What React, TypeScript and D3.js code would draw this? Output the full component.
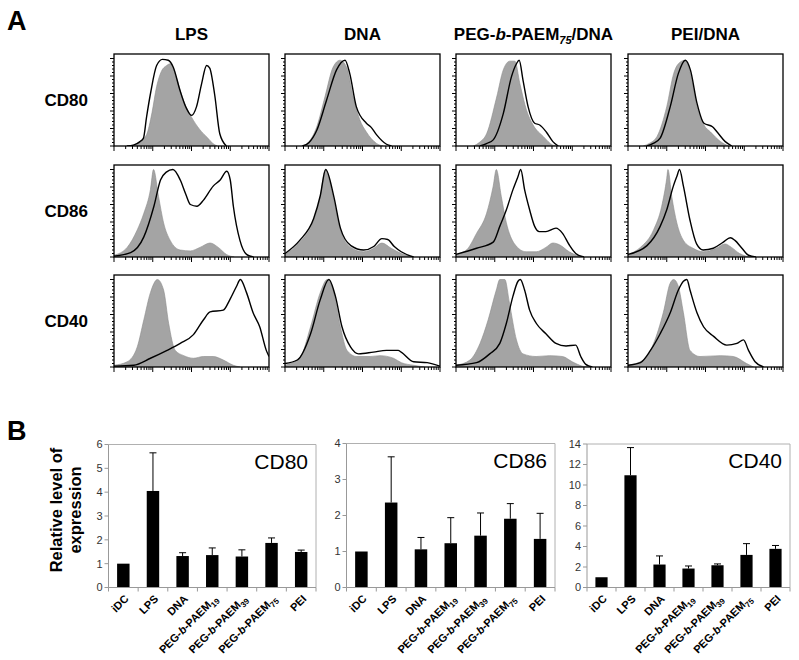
import React from 'react';
import * as d3 from 'd3';

const FONT = "'Liberation Sans', Arial, Helvetica, sans-serif";

// ---------- Panel A: flow cytometry histograms ----------
// points: [log10 fluorescence (decades 0..4), % of max]
const columnTitles = ['LPS', 'DNA', 'PEG-b-PAEM75/DNA', 'PEI/DNA'];
const rowLabels = ['CD80', 'CD86', 'CD40'];

// CD80 row
const cd80LpsCtrl = [[0.41,0],[0.6,3],[0.84,13],[0.98,38],[1.1,68],[1.22,85],[1.36,92],[1.45,94],[1.61,78],[1.79,52],[2.0,33],[2.21,19],[2.4,10],[2.55,3],[2.66,0]];
const cd80Lps = [[0.33,0],[0.5,1],[0.67,5],[0.76,9],[0.84,33],[0.95,62],[1.1,92],[1.25,99],[1.4,98],[1.53,90],[1.7,64],[1.87,43],[2.0,35],[2.13,45],[2.26,71],[2.39,92],[2.47,89],[2.6,58],[2.73,14],[2.9,0]];
const cd80DnaCtrl = [[0.43,0],[0.6,4],[0.82,22],[1.03,56],[1.24,90],[1.42,98],[1.59,90],[1.76,56],[1.93,30],[2.1,16],[2.36,3],[2.53,0]];
const cd80Dna = [[0.45,0],[0.62,4],[0.82,18],[1.07,52],[1.33,87],[1.55,98],[1.67,83],[1.84,45],[2.1,26],[2.23,21],[2.36,13],[2.62,2],[2.75,0]];
const cd80PegCtrl = [[0.45,0],[0.6,4],[0.79,14],[1.05,56],[1.22,87],[1.39,97],[1.52,97],[1.65,71],[1.82,41],[1.99,24],[2.25,11],[2.5,1],[2.6,0]];
const cd80Peg = [[0.62,0],[0.8,3],[0.96,7],[1.22,37],[1.43,79],[1.56,94],[1.63,98],[1.73,75],[1.86,45],[2.03,26],[2.16,24],[2.33,16],[2.5,5],[2.64,0]];
const cd80PeiCtrl = [[0.4,0],[0.55,3],[0.75,11],[1.0,45],[1.18,83],[1.35,96],[1.48,98],[1.61,83],[1.78,45],[1.96,24],[2.13,16],[2.39,5],[2.6,0]];
const cd80Pei = [[0.49,0],[0.65,3],[0.83,9],[1.09,45],[1.3,83],[1.48,98],[1.61,87],[1.78,49],[1.96,26],[2.18,22],[2.3,16],[2.51,5],[2.68,0]];

// CD86 row
const cd86LpsCtrl = [[0,2],[0.34,11],[0.6,31],[0.77,50],[0.94,77],[1.02,100],[1.15,69],[1.28,39],[1.45,19],[1.71,8],[1.97,7],[2.22,11],[2.48,16],[2.69,11],[2.9,3],[3.1,0]];
const cd86Lps = [[0,1],[0.43,5],[0.77,23],[1.03,58],[1.2,88],[1.35,97],[1.52,100],[1.71,88],[1.85,72],[1.97,60],[2.14,58],[2.31,65],[2.56,81],[2.74,88],[2.91,98],[3.0,88],[3.08,58],[3.25,19],[3.42,3],[3.6,0]];
const cd86DnaCtrl = [[0,3],[0.38,17],[0.74,42],[0.91,69],[1.04,100],[1.26,65],[1.43,31],[1.7,11],[2.03,6],[2.29,10],[2.5,16],[2.74,10],[3.0,4],[3.3,0]];
const cd86Dna = [[0,4],[0.38,19],[0.74,44],[0.91,70],[1.05,100],[1.26,69],[1.43,33],[1.7,13],[2.03,8],[2.29,12],[2.5,21],[2.65,20],[2.82,12],[3.0,6],[3.32,0]];
const cd86PegCtrl = [[0,3],[0.27,8],[0.53,27],[0.79,50],[0.96,81],[1.04,100],[1.17,69],[1.3,39],[1.51,15],[1.81,6],[2.07,6],[2.32,11],[2.5,16],[2.67,14],[2.92,6],[3.18,1],[3.3,0]];
const cd86Peg = [[0,3],[0.53,10],[0.96,17],[1.13,35],[1.3,54],[1.47,77],[1.6,92],[1.67,100],[1.77,77],[1.9,54],[2.03,35],[2.15,29],[2.32,29],[2.58,33],[2.75,27],[2.92,14],[3.09,4],[3.3,0]];
const cd86PeiCtrl = [[0,3],[0.32,11],[0.66,31],[0.87,58],[1.0,90],[1.03,100],[1.13,69],[1.26,39],[1.43,19],[1.68,10],[1.94,6],[2.28,10],[2.5,15],[2.67,11],[2.88,4],[3.05,1],[3.2,0]];
const cd86Pei = [[0,3],[0.49,13],[0.83,35],[1.0,54],[1.17,81],[1.26,92],[1.33,100],[1.43,81],[1.6,42],[1.77,15],[1.94,8],[2.2,10],[2.46,17],[2.64,22],[2.76,19],[2.94,10],[3.11,2],[3.3,0]];

// CD40 row
const cd40LpsCtrl = [[0,2],[0.34,6],[0.6,23],[0.77,54],[0.94,85],[1.12,100],[1.28,88],[1.41,50],[1.58,19],[1.8,13],[2.05,10],[2.31,12],[2.56,12],[2.82,8],[3.08,2],[3.25,0]];
const cd40Lps = [[0,1],[0.51,2],[0.94,10],[1.37,19],[1.71,27],[2.05,37],[2.31,54],[2.48,63],[2.82,65],[2.99,77],[3.16,92],[3.26,100],[3.42,85],[3.59,62],[3.76,46],[3.93,19],[4.0,12]];
const cd40DnaCtrl = [[0,2],[0.4,12],[0.66,46],[0.91,85],[1.09,100],[1.26,85],[1.43,46],[1.6,19],[1.85,12],[2.2,12],[2.45,13],[2.8,10],[3.0,5],[3.32,2],[3.6,0]];
const cd40Dna = [[0,4],[0.32,8],[0.66,38],[0.91,77],[1.13,100],[1.3,81],[1.47,46],[1.69,23],[1.9,15],[2.28,17],[2.62,19],[2.92,19],[3.0,17],[3.32,6],[3.67,5],[4.0,1]];
const cd40PegCtrl = [[0,2],[0.36,8],[0.62,27],[0.83,54],[1.04,88],[1.13,100],[1.26,100],[1.38,73],[1.56,31],[1.73,15],[2.07,12],[2.41,13],[2.75,12],[3.0,6],[3.26,1],[3.4,0]];
const cd40Peg = [[0,2],[0.53,5],[0.87,15],[1.13,27],[1.3,50],[1.47,81],[1.6,98],[1.66,100],[1.77,88],[1.9,65],[2.07,50],[2.32,38],[2.58,27],[2.84,24],[3.09,25],[3.22,12],[3.35,3],[3.52,0]];
const cd40PeiCtrl = [[0,2],[0.4,8],[0.66,27],[0.91,62],[1.09,96],[1.18,100],[1.3,92],[1.43,62],[1.6,19],[1.86,12],[2.38,13],[2.72,12],[3.06,4],[3.24,0]];
const cd40Pei = [[0,2],[0.32,5],[0.58,19],[0.83,38],[1.09,62],[1.3,88],[1.43,98],[1.52,100],[1.6,88],[1.78,62],[1.95,46],[2.21,35],[2.55,25],[2.81,27],[2.98,31],[3.11,19],[3.28,6],[3.5,0]];

const histoRows = [
  [[cd80LpsCtrl, cd80Lps], [cd80DnaCtrl, cd80Dna], [cd80PegCtrl, cd80Peg], [cd80PeiCtrl, cd80Pei]],
  [[cd86LpsCtrl, cd86Lps], [cd86DnaCtrl, cd86Dna], [cd86PegCtrl, cd86Peg], [cd86PeiCtrl, cd86Pei]],
  [[cd40LpsCtrl, cd40Lps], [cd40DnaCtrl, cd40Dna], [cd40PegCtrl, cd40Peg], [cd40PeiCtrl, cd40Pei]],
];

// ---------- Panel B: bar charts ----------
const barCategories = ['iDC', 'LPS', 'DNA', 'PEG-b-PAEM19', 'PEG-b-PAEM39', 'PEG-b-PAEM75', 'PEI'];
const cd80Means = [1.0, 4.05, 1.32, 1.36, 1.30, 1.87, 1.49];
const cd80Errors = [0, 1.6, 0.14, 0.3, 0.28, 0.21, 0.08];
const cd86Means = [1.0, 2.36, 1.06, 1.23, 1.44, 1.91, 1.35];
const cd86Errors = [0, 1.27, 0.33, 0.71, 0.63, 0.42, 0.71];
const cd40Means = [1.0, 10.95, 2.24, 1.85, 2.17, 3.18, 3.77];
const cd40Errors = [0, 2.7, 0.84, 0.25, 0.13, 1.1, 0.33];
const cd80Ticks = [0, 1, 2, 3, 4, 5, 6];
const cd86Ticks = [0, 1, 2, 3, 4];
const cd40Ticks = [0, 2, 4, 6, 8, 10, 12, 14];

const PANEL_X = [114, 285, 456, 628];
const PANEL_Y = [54, 165, 275];
const PW = 155;
const PH = 92;

function Histo({ x0, y0, ctrl, sample }: { x0: number; y0: number; ctrl: number[][]; sample: number[][] }) {
  const x = d3.scaleLog().domain([1, 1e4]).range([x0, x0 + PW]);
  const y = d3.scaleLinear().domain([0, 100]).range([y0 + PH, y0 + 4.5]);
  const px = (d: number[]) => x(Math.pow(10, d[0]));
  const area = d3.area<number[]>().x(px).y0(y0 + PH).y1((d) => y(d[1])).curve(d3.curveMonotoneX);
  const line = d3.line<number[]>().x(px).y((d) => y(d[1])).curve(d3.curveMonotoneX);
  const xt = x.ticks();
  const yMinor = d3.range(0, 101, 4);
  const id = `clip-${x0}-${y0}`;
  return (
    <g>
      <defs>
        <clipPath id={id}>
          <rect x={x0} y={y0} width={PW} height={PH} />
        </clipPath>
      </defs>
      <g clipPath={`url(#${id})`}>
        <path d={area(ctrl) || ''} fill="#a4a4a4" stroke="#8a8a8a" strokeWidth={0.6} />
        <path d={line(sample) || ''} fill="none" stroke="#000" strokeWidth={1.4} strokeLinejoin="round" />
      </g>
      <rect x={x0} y={y0} width={PW} height={PH} fill="none" stroke="#000" strokeWidth={1.3} />
      {xt.map((t, i) => {
        const major = Math.abs(Math.log10(t) - Math.round(Math.log10(t))) < 1e-9;
        const xx = x(t);
        return <line key={i} x1={xx} x2={xx} y1={y0 + PH} y2={y0 + PH + (major ? 5 : 3)} stroke="#000" strokeWidth={1} />;
      })}
      {yMinor.map((t, i) => {
        const major = t % 20 === 0;
        const yy = y(t);
        return <line key={i} x1={x0} x2={x0 - (major ? 4 : 2)} y1={yy} y2={yy} stroke="#000" strokeWidth={1} />;
      })}
    </g>
  );
}

function CatLabel({ name }: { name: string }) {
  const m = name.match(/^PEG-b-PAEM(\d+)$/);
  if (m) {
    return (
      <>
        <tspan>PEG-</tspan>
        <tspan fontStyle="italic">b</tspan>
        <tspan>-PAEM</tspan>
        <tspan fontSize={8} dy={3}>{m[1]}</tspan>
      </>
    );
  }
  return <tspan>{name}</tspan>;
}

function BarChart({ left, right, top, bottom, ticks, means, errors, label }: {
  left: number; right: number; top: number; bottom: number; ticks: number[]; means: number[]; errors: number[]; label: string;
}) {
  const x = d3.scaleBand().domain(barCategories).range([left, right]).paddingInner(0.58).paddingOuter(0.29);
  const y = d3.scaleLinear().domain([0, ticks[ticks.length - 1]]).range([bottom, top]);
  const step = x.step();
  const axisColor = '#999';
  return (
    <g fontFamily={FONT}>
      <line x1={left} x2={right} y1={top} y2={top} stroke="#b0b0b0" />
      <line x1={right} x2={right} y1={top} y2={bottom} stroke="#b0b0b0" />
      {barCategories.map((c, i) => {
        const m = means[i];
        const e = errors[i];
        const bx = x(c) as number;
        const cx = bx + x.bandwidth() / 2;
        return (
          <g key={c}>
            <rect x={bx} y={y(m)} width={x.bandwidth()} height={bottom - y(m)} fill="#000" />
            {e > 0 && (
              <g stroke="#000" strokeWidth={1}>
                <line x1={cx} x2={cx} y1={y(m)} y2={y(m + e)} />
                <line x1={cx - 3.5} x2={cx + 3.5} y1={y(m + e)} y2={y(m + e)} />
              </g>
            )}
            <text
              transform={`translate(${cx + 6},${bottom + 12}) rotate(-45)`}
              textAnchor="end"
              fontWeight="bold"
              fontSize={11}
              fill="#000"
            >
              <CatLabel name={c} />
            </text>
          </g>
        );
      })}
      <line x1={left} x2={left} y1={top} y2={bottom} stroke={axisColor} />
      <line x1={left} x2={right} y1={bottom} y2={bottom} stroke={axisColor} />
      {barCategories.map((c, i) => (
        <line key={'xt' + i} x1={left + i * step} x2={left + i * step} y1={bottom} y2={bottom + 4} stroke={axisColor} />
      ))}
      <line x1={right} x2={right} y1={bottom} y2={bottom + 4} stroke={axisColor} />
      {ticks.map((t) => (
        <g key={'yt' + t}>
          <line x1={left - 4} x2={left} y1={y(t)} y2={y(t)} stroke={axisColor} />
          <text x={left - 6} y={y(t)} dy="0.35em" textAnchor="end" fontSize={11} fill="#333">{t}</text>
        </g>
      ))}
      <text x={right - 8} y={top + 24} textAnchor="end" fontSize={21} fill="#000">{label}</text>
    </g>
  );
}

function ColumnTitle({ t, cx }: { t: string; cx: number }) {
  const m = t.match(/^PEG-b-PAEM(\d+)(\/DNA)$/);
  return (
    <text x={cx} y={40} textAnchor="middle" fontWeight="bold" fontSize={17} fontFamily={FONT}>
      {m ? (
        <>
          <tspan>PEG-</tspan>
          <tspan fontStyle="italic">b</tspan>
          <tspan>-PAEM</tspan>
          <tspan fontSize={11} fontStyle="italic" dy={4}>{m[1]}</tspan>
          <tspan dy={-4}>{m[2]}</tspan>
        </>
      ) : (
        t
      )}
    </text>
  );
}

export default function App() {
  return (
    <svg
      width={799}
      height={660}
      viewBox="0 0 799 660"
      style={{ position: 'absolute', left: 0, top: 0, display: 'block', background: '#fff' }}
      fontFamily={FONT}
    >
      <rect x={0} y={0} width={799} height={660} fill="#fff" />
      <text x={7} y={30} fontSize={27} fontWeight="bold">A</text>
      <text x={7} y={440} fontSize={27} fontWeight="bold">B</text>
      {columnTitles.map((t, i) => (
        <ColumnTitle key={t} t={t} cx={PANEL_X[i] + PW / 2} />
      ))}
      {rowLabels.map((r, j) => (
        <text key={r} x={88} y={PANEL_Y[j] + PH / 2 + 6} textAnchor="end" fontWeight="bold" fontSize={17}>{r}</text>
      ))}
      {histoRows.map((row, j) =>
        row.map((pair, i) => (
          <Histo key={`${i}-${j}`} x0={PANEL_X[i]} y0={PANEL_Y[j]} ctrl={pair[0]} sample={pair[1]} />
        ))
      )}
      <text transform="translate(62,510) rotate(-90)" textAnchor="middle" fontWeight="bold" fontSize={16.5}>Relative level of</text>
      <text transform="translate(80.5,510) rotate(-90)" textAnchor="middle" fontWeight="bold" fontSize={16.5}>expression</text>
      <BarChart left={108.5} right={316} top={444.5} bottom={587.5} ticks={cd80Ticks} means={cd80Means} errors={cd80Errors} label="CD80" />
      <BarChart left={346.5} right={555} top={443.5} bottom={587.5} ticks={cd86Ticks} means={cd86Means} errors={cd86Errors} label="CD86" />
      <BarChart left={587} right={790} top={444} bottom={587.5} ticks={cd40Ticks} means={cd40Means} errors={cd40Errors} label="CD40" />
    </svg>
  );
}
